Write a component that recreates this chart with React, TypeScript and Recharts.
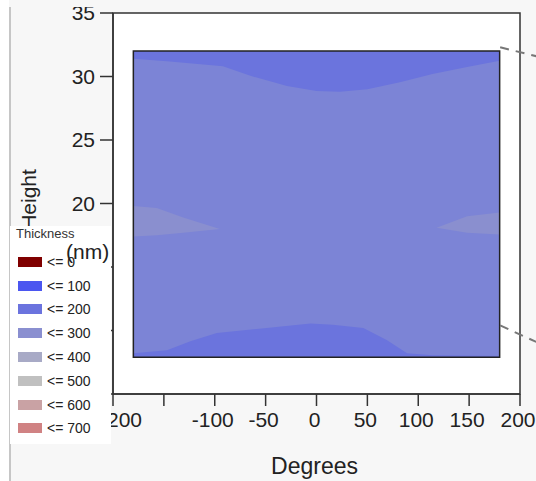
import React from 'react';
import { ComposedChart, Area, XAxis, YAxis, ReferenceArea, ReferenceLine, CartesianGrid } from 'recharts';

// axes
const xDomain = [-200, 200];
const yDomain = [5, 35];
const xTicks = [-200, -150, -100, -50, 0, 50, 100, 150, 200];
const xTickLabels = ['-200', '', '-100', '-50', '0', '50', '100', '150', '200'];
const yTicks = [5, 10, 15, 20, 25, 30, 35];

// measured region (degrees x height)
const regionX = [-180, 180];
const regionY = [7.9, 32];

// upper thin band (<= 200)
const topEdgeX = [-180, -147, -92, -65, -29, 0, 23, 50, 82, 114, 148, 180];
const topEdgeY = [31.4, 31.2, 30.8, 30.05, 29.25, 28.85, 28.8, 29.0, 29.55, 30.2, 30.75, 31.25];

// lower thin band (<= 200)
const bottomEdgeX = [-180, -147, -124, -98, -49, -6, 16, 46, 69, 89, 114, 180];
const bottomEdgeY = [8.2, 8.45, 9.15, 9.8, 10.2, 10.55, 10.45, 10.2, 9.25, 8.2, 8.05, 8.0];

// side wedges (<= 300)
const leftWedgeX = [-180, -157, -131, -95];
const leftWedgeLow = [17.4, 17.5, 17.7, 18.0];
const leftWedgeHigh = [19.8, 19.65, 18.9, 18.0];
const rightWedgeX = [118, 148, 180];
const rightWedgeLow = [18.1, 17.7, 17.55];
const rightWedgeHigh = [18.1, 19.0, 19.3];

// dashed leader lines on the right
const upperLeader = [{ x: 180.5, y: 32.3 }, { x: 216, y: 31.6 }];
const lowerLeader = [{ x: 180.5, y: 10.4 }, { x: 216, y: 9.1 }];

// legend
const legendLabels = ['<= 0', '<= 100', '<= 200', '<= 300', '<= 400', '<= 500', '<= 600', '<= 700'];
const legendColors = ['#800000', '#4b56f0', '#6b73de', '#8a8fd0', '#a8aac6', '#c0c0c0', '#c9a2a4', '#d08283'];

const FONT = '"Liberation Sans", Arial, sans-serif';

// x tick: the first label sits a little right of its tick, the others slightly left
const XTick = ({ x, y, payload }: any) => {
  const label = xTickLabels[xTicks.indexOf(payload.value)] ?? '';
  const shift = payload.value === xDomain[0] ? 8 : -2;
  return (
    <text x={x + shift} y={y} dy="0.71em" textAnchor="middle" fontSize={21} fill="#222" fontFamily={FONT}>
      {label}
    </text>
  );
};

export default function App() {
  const baseData = regionX.map((x) => ({ x, band: regionY }));
  const topData = topEdgeX.map((x, i) => ({ x, band: [topEdgeY[i], regionY[1]] }));
  const bottomData = bottomEdgeX.map((x, i) => ({ x, band: [regionY[0], bottomEdgeY[i]] }));
  const leftData = leftWedgeX.map((x, i) => ({ x, band: [leftWedgeLow[i], leftWedgeHigh[i]] }));
  const rightData = rightWedgeX.map((x, i) => ({ x, band: [rightWedgeLow[i], rightWedgeHigh[i]] }));

  return (
    <div
      style={{
        position: 'absolute',
        left: 0,
        top: 0,
        width: 536,
        height: 481,
        background: '#f7f7f7',
        overflow: 'hidden',
        fontFamily: FONT,
      }}
    >
      <div style={{ position: 'absolute', left: 0, top: 0, width: 9, height: 481, background: '#fff' }} />
      <div style={{ position: 'absolute', left: 9, top: 7, width: 2, height: 474, background: '#c6c6c6' }} />

      <div style={{ position: 'absolute', left: 0, top: 0 }}>
        <ComposedChart width={536} height={481} margin={{ top: 13, right: 16, left: 0, bottom: 0 }}>
          <CartesianGrid fill="#ffffff" horizontal={false} vertical={false} />
          <XAxis
            dataKey="x"
            type="number"
            domain={xDomain}
            ticks={xTicks}
            interval={0}
            allowDataOverflow
            height={87}
            tickSize={12}
            tickMargin={6}
            tick={<XTick />}
            axisLine={{ stroke: '#333', strokeWidth: 1.5 }}
            tickLine={{ stroke: '#333', strokeWidth: 1.5 }}
            label={({ viewBox }: any) => (
              <text
                x={viewBox.x + viewBox.width / 2 - 2}
                y={474}
                textAnchor="middle"
                fontSize={23}
                fill="#222"
                fontFamily={FONT}
              >
                Degrees
              </text>
            )}
          />
          <YAxis
            type="number"
            domain={yDomain}
            ticks={yTicks}
            interval={0}
            allowDataOverflow
            width={113}
            tickSize={13}
            tickMargin={5}
            tick={{ fontSize: 21, fill: '#222', fontFamily: FONT }}
            axisLine={{ stroke: '#333', strokeWidth: 1.5 }}
            tickLine={{ stroke: '#333', strokeWidth: 1.5 }}
            label={({ viewBox }: any) => {
              const cx = viewBox.x + 28;
              const cy = viewBox.y + viewBox.height / 2 - 4;
              return (
                <text
                  x={cx}
                  y={cy}
                  transform={`rotate(-90 ${cx} ${cy})`}
                  textAnchor="middle"
                  dominantBaseline="central"
                  fontSize={21}
                  fill="#222"
                  fontFamily={FONT}
                >
                  Height
                </text>
              );
            }}
          />

          <Area data={baseData} dataKey="band" type="linear" stroke="none" fill="#7c84d6" fillOpacity={1} dot={false} activeDot={false} isAnimationActive={false} />
          <Area data={topData} dataKey="band" type="linear" stroke="none" fill="#6b74dd" fillOpacity={1} dot={false} activeDot={false} isAnimationActive={false} />
          <Area data={bottomData} dataKey="band" type="linear" stroke="none" fill="#6b74dd" fillOpacity={1} dot={false} activeDot={false} isAnimationActive={false} />
          <Area data={leftData} dataKey="band" type="linear" stroke="none" fill="#8a8fcf" fillOpacity={1} dot={false} activeDot={false} isAnimationActive={false} />
          <Area data={rightData} dataKey="band" type="linear" stroke="none" fill="#8a8fcf" fillOpacity={1} dot={false} activeDot={false} isAnimationActive={false} />

          <ReferenceArea
            x1={regionX[0]}
            x2={regionX[1]}
            y1={regionY[0]}
            y2={regionY[1]}
            fill="none"
            fillOpacity={0}
            stroke="#222"
            strokeWidth={1.5}
            ifOverflow="visible"
          />
          <ReferenceArea
            x1={xDomain[0]}
            x2={xDomain[1]}
            y1={yDomain[0]}
            y2={yDomain[1]}
            fill="none"
            fillOpacity={0}
            stroke="#333"
            strokeWidth={1.5}
            ifOverflow="visible"
          />
          <ReferenceLine segment={upperLeader} ifOverflow="visible" stroke="#777" strokeWidth={2} strokeDasharray="9 7" />
          <ReferenceLine segment={lowerLeader} ifOverflow="visible" stroke="#777" strokeWidth={2} strokeDasharray="9 7" />
        </ComposedChart>
      </div>

      {/* strip that hides the top of the window */}
      <div style={{ position: 'absolute', left: 9, top: 0, width: 527, height: 7, background: '#f7f7f7' }} />

      {/* Thickness legend */}
      <div
        style={{
          position: 'absolute',
          left: 10,
          top: 226,
          width: 101,
          height: 218,
          background: '#fff',
        }}
      >
        <div style={{ position: 'absolute', left: 6, top: 0, fontSize: 13, lineHeight: '15px', color: '#333' }}>
          Thickness
        </div>
        {legendLabels.map((label, i) => (
          <div
            key={label}
            style={{
              position: 'absolute',
              left: 8,
              top: 35.7 + i * 23.8 - 8,
              height: 16,
              display: 'flex',
              alignItems: 'center',
            }}
          >
            <span
              style={{
                display: 'inline-block',
                width: 24,
                height: 10,
                background: legendColors[i],
                boxShadow: '0 0 0 1px rgba(255,255,255,0.6)',
              }}
            />
            <span style={{ marginLeft: 5, fontSize: 14, color: '#222' }}>{label}</span>
          </div>
        ))}
      </div>
      <div style={{ position: 'absolute', left: 66, top: 240, fontSize: 21, lineHeight: '24px', color: '#222' }}>
        (nm)
      </div>
    </div>
  );
}
